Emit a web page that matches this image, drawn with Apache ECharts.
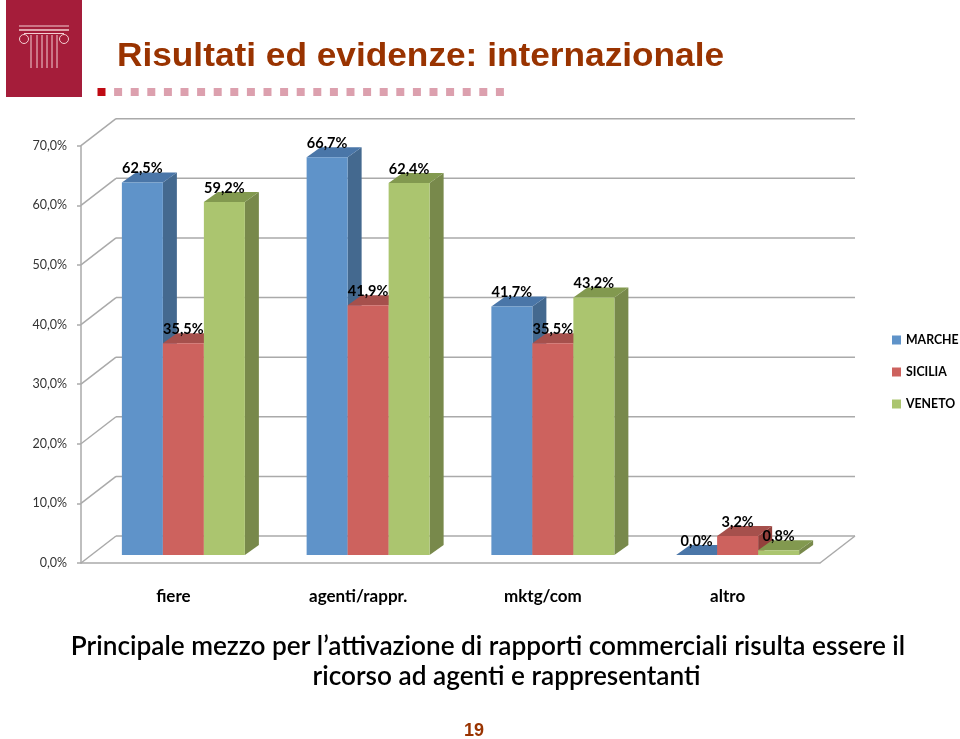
<!DOCTYPE html>
<html>
<head>
<meta charset="utf-8">
<title>Risultati ed evidenze: internazionale</title>
<script src="https://cdn.jsdelivr.net/npm/echarts@6/dist/echarts.min.js"></script>
<style>
  html, body { margin: 0; padding: 0; background: #fff; }
  #chart { width: 960px; height: 739px; }
</style>
</head>
<body>
<div id="chart"></div>
<script>
const categories = ['fiere', 'agenti/rappr.', 'mktg/com', 'altro'];
const marche = [62.5, 66.7, 41.7, 0.0];
const sicilia = [35.5, 41.9, 35.5, 3.2];
const veneto = [59.2, 62.4, 43.2, 0.8];
const yTicks = [0, 10, 20, 30, 40, 50, 60, 70];

const fmt = v => v.toFixed(1).replace('.', ',') + '%';

const WALL_DX = 35, WALL_DY = 27;   // back wall offset
const BAR_W = 41, BAR_DX = 14, BAR_DY = 10;
const FLOOR_DX = 10, FLOOR_DY = 8;  // bars stand a bit inside the floor
const WALL_COLOR = '#aaaaaa';

const palette = [
  { front: '#5f93c9', side: '#44698f', top: '#4a76a8' },
  { front: '#cd625e', side: '#93403c', top: '#a6504c' },
  { front: '#abc56f', side: '#78894b', top: '#82994f' }
];

const wallLine = (x1, y1, x2, y2) => ({
  type: 'line',
  shape: { x1, y1, x2, y2 },
  style: { stroke: WALL_COLOR, lineWidth: 1.5 }
});

const renderWall = (params, api) => {
  const rect = params.coordSys;
  const y = api.coord([0, api.value(1)])[1];
  const right = rect.x + rect.width;
  const children = [
    wallLine(rect.x, y, rect.x + WALL_DX, y - WALL_DY),
    wallLine(rect.x + WALL_DX, y - WALL_DY, right + WALL_DX, y - WALL_DY)
  ];
  if (api.value(1) === 0) {
    children.push(wallLine(right, y, right + WALL_DX, y - WALL_DY));
  }
  return { type: 'group', children };
};

const renderBar = idx => (params, api) => {
  const colors = palette[idx];
  const value = api.value(1);
  const center = api.coord([api.value(0), 0])[0];
  const left = center + FLOOR_DX - (BAR_W * 3) / 2 + idx * BAR_W;
  const right = left + BAR_W;
  const base = api.coord([api.value(0), 0])[1] - FLOOR_DY;
  const top = api.coord([api.value(0), value])[1] - FLOOR_DY;
  const poly = (points, fill) => ({ type: 'polygon', shape: { points }, style: { fill } });
  return {
    type: 'group',
    children: [
      poly([[right, base], [right + BAR_DX, base - BAR_DY], [right + BAR_DX, top - BAR_DY], [right, top]], colors.side),
      poly([[left, top], [left + BAR_DX, top - BAR_DY], [right + BAR_DX, top - BAR_DY], [right, top]], colors.top),
      poly([[left, base], [right, base], [right, top], [left, top]], colors.front),
      {
        type: 'text',
        z2: 100,
        style: {
          text: fmt(value),
          x: left + BAR_W / 2,
          y: top - 14,
          align: 'center',
          verticalAlign: 'middle',
          fill: '#000',
          font: 'bold 14.5px Lato'
        }
      }
    ]
  };
};

const barSeries = (name, values, idx) => ({
  name,
  type: 'custom',
  renderItem: renderBar(idx),
  itemStyle: { color: palette[idx].front },
  encode: { x: 0, y: 1 },
  data: values.map((v, i) => [i, v])
});

// slide furniture: logo, dotted rule, title, comment, page number
const PINK = '#f3cfd2';
const logoLine = (x1, y1, x2, y2, lineWidth) => ({
  type: 'line', shape: { x1, y1, x2, y2 }, style: { stroke: PINK, lineWidth: lineWidth || 1 }
});
const logo = [
  { type: 'rect', shape: { x: 6, y: 0, width: 76, height: 97 }, style: { fill: '#a51d3a' } },
  logoLine(19, 26, 69, 26), logoLine(19, 30, 69, 30, 1.5), logoLine(24, 33.5, 64, 33.5),
  { type: 'circle', shape: { cx: 24, cy: 39, r: 4.5 }, style: { fill: 'none', stroke: PINK, lineWidth: 1 } },
  { type: 'circle', shape: { cx: 64, cy: 39, r: 4.5 }, style: { fill: 'none', stroke: PINK, lineWidth: 1 } }
];
[31, 37, 42, 47, 52, 57].forEach(x => logo.push(logoLine(x, 35, x, 68)));

const dots = [];
for (let i = 0; i < 25; i++) {
  dots.push({
    type: 'rect',
    shape: { x: 97.5 + i * 16.6, y: 88, width: 8, height: 8 },
    style: { fill: i === 0 ? '#bf0a13' : '#dca0ae' }
  });
}

const slideText = (text, x, y, font, fill, align) => ({
  type: 'text',
  style: { text, x, y, font, fill, align: align || 'center', verticalAlign: 'middle' }
});

const myChart = echarts.init(document.getElementById('chart'), null, { renderer: 'canvas' });
myChart.setOption({
  animation: false,
  backgroundColor: '#fff',
  grid: { left: 81, top: 145.7, width: 739, height: 417.3, containLabel: false },
  legend: {
    data: ['MARCHE', 'SICILIA', 'VENETO'],
    orient: 'vertical',
    left: 892,
    top: 334,
    padding: 0,
    itemWidth: 9,
    itemHeight: 9,
    itemGap: 20,
    icon: 'rect',
    selectedMode: false,
    textStyle: { fontFamily: 'Lato', fontSize: 12.3, fontWeight: 'bold', color: '#000', padding: [2, 0, 0, 0] }
  },
  xAxis: {
    type: 'category',
    data: categories,
    axisLine: { lineStyle: { color: WALL_COLOR, width: 1.5 } },
    axisTick: { length: 7, lineStyle: { color: WALL_COLOR, width: 1.5 } },
    axisLabel: { margin: 25, fontFamily: 'Lato', fontSize: 17, fontWeight: 'bold', color: '#000' }
  },
  yAxis: {
    type: 'value',
    min: 0,
    max: 70,
    interval: 10,
    axisLine: { show: true, lineStyle: { color: WALL_COLOR, width: 1.5 } },
    axisTick: { show: true, length: 4, lineStyle: { color: WALL_COLOR, width: 1.5 } },
    splitLine: { show: false },
    axisLabel: { margin: 14, padding: [4, 0, 0, 0], fontFamily: 'Lato', fontSize: 12.5, color: '#333', formatter: v => fmt(v) }
  },
  series: [
    {
      type: 'custom',
      silent: true,
      renderItem: renderWall,
      encode: { x: 0, y: 1 },
      data: yTicks.map(v => [0, v])
    },
    barSeries('MARCHE', marche, 0),
    barSeries('SICILIA', sicilia, 1),
    barSeries('VENETO', veneto, 2)
  ],
  graphic: [
    ...logo,
    ...dots,
    {
      type: 'text',
      x: 117,
      y: 57,
      scaleX: 1.068,
      style: { text: 'Risultati ed evidenze: internazionale', x: 0, y: 0, font: 'bold 33px "Liberation Sans"', fill: '#993300', align: 'left', verticalAlign: 'middle' }
    },
    slideText('Principale mezzo per l’attivazione di rapporti commerciali risulta essere il', 488, 646.5, '600 26.2px Lato', '#000'),
    slideText('ricorso ad agenti e rappresentanti', 506.5, 677, '600 26.2px Lato', '#000'),
    slideText('19', 474, 731, 'bold 18px "Liberation Sans"', '#993300')
  ]
});
</script>
</body>
</html>
